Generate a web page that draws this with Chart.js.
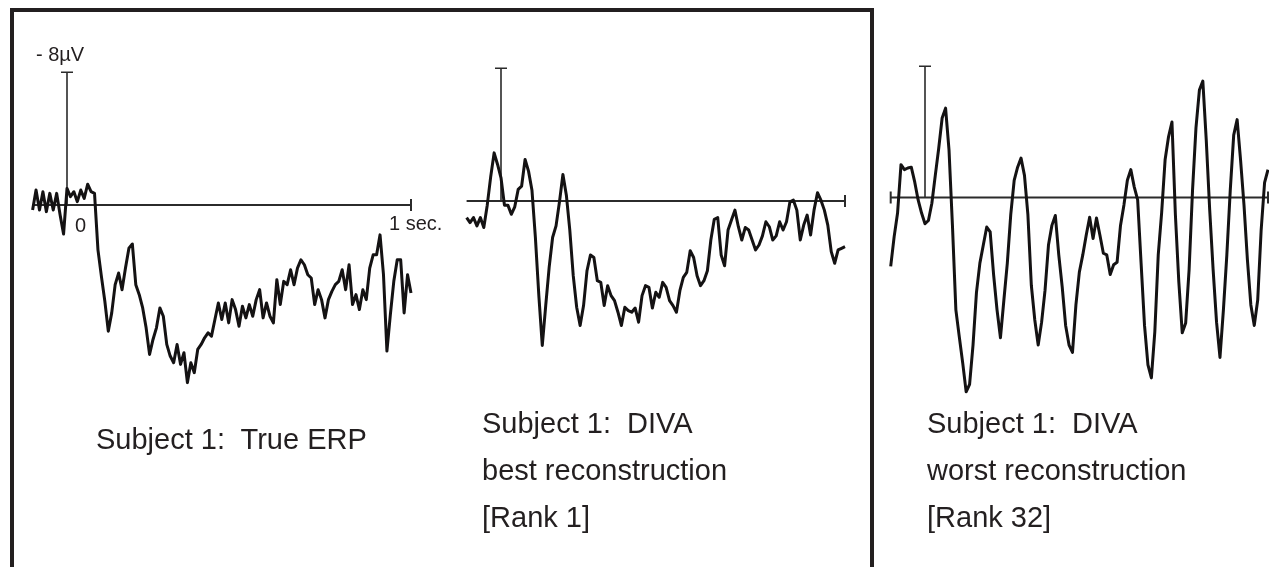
<!DOCTYPE html>
<html>
<head>
<meta charset="utf-8">
<script src="https://cdn.jsdelivr.net/npm/chart.js@4/dist/chart.umd.min.js"></script>
<style>
    body {
        margin: 0;
        width: 1269px;
        height: 567px;
        overflow: hidden;
        position: relative;
        background: #fff;
        font-family: "Liberation Sans", Arial, sans-serif;
        color: #231f20;
    }

    #frame {
        position: absolute;
        left: 10px;
        top: 8px;
        width: 856px;
        height: 620px;
        border: 4px solid #231f20;
    }

    #chart {
        position: absolute;
        left: 0;
        top: 0;
    }

    .caption {
        position: absolute;
        font-size: 29px;
        line-height: 47px;
        white-space: pre;
    }
</style>
</head>
<body>
<div id="frame"></div>
<canvas id="chart" width="1269" height="567"></canvas>

<div class="caption" style="left:96px; top:416px;">Subject 1:  True ERP</div>
<div class="caption" style="left:482px; top:400px;">Subject 1:  DIVA
best reconstruction
[Rank 1]</div>
<div class="caption" style="left:927px; top:400px;">Subject 1:  DIVA
worst reconstruction
[Rank 32]</div>

<script>
// sample times in ms (one sample every 10 ms)
const timesMs = [-100, -90, -80, -70, -60, -50, -40, -30, -20, -10,
    0, 10, 20, 30, 40, 50, 60, 70, 80, 90,
    100, 110, 120, 130, 140, 150, 160, 170, 180, 190,
    200, 210, 220, 230, 240, 250, 260, 270, 280, 290,
    300, 310, 320, 330, 340, 350, 360, 370, 380, 390,
    400, 410, 420, 430, 440, 450, 460, 470, 480, 490,
    500, 510, 520, 530, 540, 550, 560, 570, 580, 590,
    600, 610, 620, 630, 640, 650, 660, 670, 680, 690,
    700, 710, 720, 730, 740, 750, 760, 770, 780, 790,
    800, 810, 820, 830, 840, 850, 860, 870, 880, 890,
    900, 910, 920, 930, 940, 950, 960, 970, 980, 990, 1000];

// microvolts, negative up
const trueErp = [0.3, -0.9, 0.3, -0.8, 0.4, -0.7, 0.3, -0.7, 0.6, 1.75,
    -1.0, -0.5, -0.8, -0.2, -0.9, -0.4, -1.25, -0.8, -0.7, 2.7,
    4.3, 5.8, 7.6, 6.5, 4.8, 4.1, 5.1, 3.8, 2.6, 2.35,
    4.8, 5.4, 6.2, 7.4, 9.0, 8.1, 7.4, 6.2, 6.7, 8.4,
    9.1, 9.5, 8.4, 9.6, 8.9, 10.7, 9.5, 10.1, 8.7, 8.4,
    8.0, 7.7, 7.9, 6.9, 5.9, 6.9, 5.9, 7.1, 5.7, 6.3,
    7.3, 6.1, 6.8, 6.0, 6.7, 5.7, 5.1, 6.8, 5.9, 6.7,
    7.1, 4.5, 6.0, 4.6, 4.8, 3.9, 4.8, 3.8, 3.3, 3.6,
    4.2, 4.4, 6.0, 5.1, 5.7, 6.8, 5.7, 5.2, 4.8, 4.6,
    3.9, 5.1, 3.6, 6.0, 5.4, 6.3, 5.1, 5.7, 3.8, 3.0,
    3.0, 1.8, 4.2, 8.8, 6.6, 4.6, 3.3, 3.3, 6.5, 4.2, 5.3];

const bestRecon = [1.0, 1.3, 1.0, 1.5, 1.0, 1.6, 0.25, -1.45, -2.9, -2.2,
    -1.4, 0.25, 0.25, 0.8, 0.35, -0.7, -0.9, -2.5, -1.8, -0.65,
    2.2, 5.7, 8.7, 6.3, 4.0, 2.2, 1.5, 0.05, -1.6, -0.35,
    1.75, 4.5, 6.4, 7.5, 6.3, 4.2, 3.25, 3.4, 4.8, 4.9,
    6.3, 5.1, 5.7, 6.0, 6.7, 7.5, 6.4, 6.6, 6.7, 6.45,
    7.3, 5.7, 5.1, 5.2, 6.45, 5.5, 5.8, 4.9, 5.2, 6.0,
    6.3, 6.7, 5.4, 4.6, 4.3, 3.0, 3.4, 4.5, 5.1, 4.8,
    4.2, 2.35, 1.1, 1.0, 3.25, 3.9, 1.75, 1.15, 0.55, 1.55,
    2.35, 1.6, 1.75, 2.35, 2.95, 2.65, 2.1, 1.25, 1.55, 2.35,
    2.1, 1.25, 1.75, 1.25, 0.05, -0.05, 0.55, 2.35, 1.45, 0.85,
    2.05, 0.55, -0.5, -0.05, 0.55, 1.45, 3.05, 3.75, 2.95, 2.85, 2.75];

const worstRecon = [4.2, 2.4, 0.95, -2.0, -1.7, -1.8, -1.85, -0.95, 0.15, 0.95,
    1.6, 1.4, 0.35, -1.35, -3.0, -4.85, -5.45, -2.9, 1.7, 6.85,
    8.5, 10.1, 11.85, 11.4, 9.0, 5.8, 4.0, 2.9, 1.8, 2.1,
    4.7, 6.85, 8.55, 6.25, 4.0, 1.05, -1.05, -1.85, -2.4, -1.35,
    1.05, 5.35, 7.45, 9.0, 7.6, 5.65, 2.9, 1.7, 1.1, 3.5,
    5.45, 7.8, 9.0, 9.45, 6.55, 4.55, 3.5, 2.3, 1.2, 2.5,
    1.25, 2.3, 3.4, 3.5, 4.7, 4.1, 3.95, 1.7, 0.45, -1.05,
    -1.7, -0.65, 0.15, 4.0, 7.8, 10.2, 11.0, 8.2, 3.5, 0.9,
    -2.3, -3.7, -4.6, 1.05, 5.15, 8.25, 7.65, 4.4, -0.45, -4.25,
    -6.55, -7.1, -3.5, 0.75, 4.4, 7.6, 9.75, 6.85, 3.5, -0.45,
    -3.8, -4.75, -2.3, 0.45, 3.8, 6.55, 7.8, 6.25, 2.0, -0.9, -1.7];

const timeTicks = [-0.1, 0, 1];      // axis start, stimulus onset, end
const voltTicks = [0, -8];           // baseline, scale bar top
const timeLabels = ['0', '1 sec.'];
const voltLabel = '- 8µV';

// where each panel's origin sits on the page, and its pixel scale
const panels = [
    { series: trueErp, ox: 67, oy: 205, pxPerSec: 344, pxPerUv: 16.6, labels: true, startTick: false },
    { series: bestRecon, ox: 501, oy: 201, pxPerSec: 344, pxPerUv: 16.6, labels: false, startTick: false },
    { series: worstRecon, ox: 925, oy: 197.5, pxPerSec: 343, pxPerUv: 16.4, labels: false, startTick: true }
];

const W = 1269;
const H = 567;
const ink = '#141213';
const axisInk = '#2b2b2b';


function buildScales() {
    let scales = {};
    panels.forEach((p, i) => {
        scales['x' + i] = {
            type: 'linear',
            display: false,
            min: (0 - p.ox) / p.pxPerSec,
            max: (W - p.ox) / p.pxPerSec
        };
        scales['y' + i] = {
            type: 'linear',
            display: false,
            reverse: true,
            min: (0 - p.oy) / p.pxPerUv,
            max: (H - p.oy) / p.pxPerUv
        };
    });
    return scales;
}


function buildDatasets() {
    return panels.map((p, i) => ({
        data: timesMs.map((t, k) => ({ x: t / 1000, y: p.series[k] })),
        xAxisID: 'x' + i,
        yAxisID: 'y' + i,
        borderColor: ink,
        borderWidth: 3,
        pointRadius: 0,
        tension: 0,
        fill: false,
        borderJoinStyle: 'round'
    }));
}


const erpAxes = {
    id: 'erpAxes',
    beforeDatasetsDraw(chart) {
        const ctx = chart.ctx;
        ctx.save();
        ctx.strokeStyle = axisInk;
        ctx.fillStyle = '#231f20';
        panels.forEach((p, i) => {
            const xs = chart.scales['x' + i];
            const ys = chart.scales['y' + i];
            const xStart = xs.getPixelForValue(timeTicks[0]);
            const xZero = xs.getPixelForValue(timeTicks[1]);
            const xEnd = xs.getPixelForValue(timeTicks[2]);
            const yBase = ys.getPixelForValue(voltTicks[0]);
            const yTop = ys.getPixelForValue(voltTicks[1]);

            // time axis
            ctx.lineWidth = 2;
            ctx.beginPath();
            ctx.moveTo(xStart, yBase);
            ctx.lineTo(xEnd, yBase);
            ctx.moveTo(xEnd, yBase - 6);
            ctx.lineTo(xEnd, yBase + 6);
            if (p.startTick) {
                ctx.moveTo(xStart, yBase - 6);
                ctx.lineTo(xStart, yBase + 6);
            }
            ctx.stroke();

            // voltage scale bar
            ctx.lineWidth = 1.6;
            ctx.beginPath();
            ctx.moveTo(xZero, yBase);
            ctx.lineTo(xZero, yTop);
            ctx.moveTo(xZero - 6, yTop);
            ctx.lineTo(xZero + 6, yTop);
            ctx.stroke();

            if (p.labels) {
                ctx.font = '20px "Liberation Sans", Arial, sans-serif';
                ctx.textBaseline = 'middle';
                ctx.textAlign = 'left';
                ctx.fillText(voltLabel, xZero - 31, yTop - 17);
                ctx.fillText(timeLabels[0], xZero + 8, yBase + 21);
                ctx.fillText(timeLabels[1], xEnd - 22, yBase + 19);
            }
        });
        ctx.restore();
    }
};


new Chart(document.getElementById('chart'), {
    type: 'line',
    data: { datasets: buildDatasets() },
    options: {
        responsive: false,
        animation: false,
        layout: { padding: 0 },
        scales: buildScales(),
        plugins: {
            legend: { display: false },
            tooltip: { enabled: false }
        }
    },
    plugins: [erpAxes]
});
</script>
</body>
</html>
